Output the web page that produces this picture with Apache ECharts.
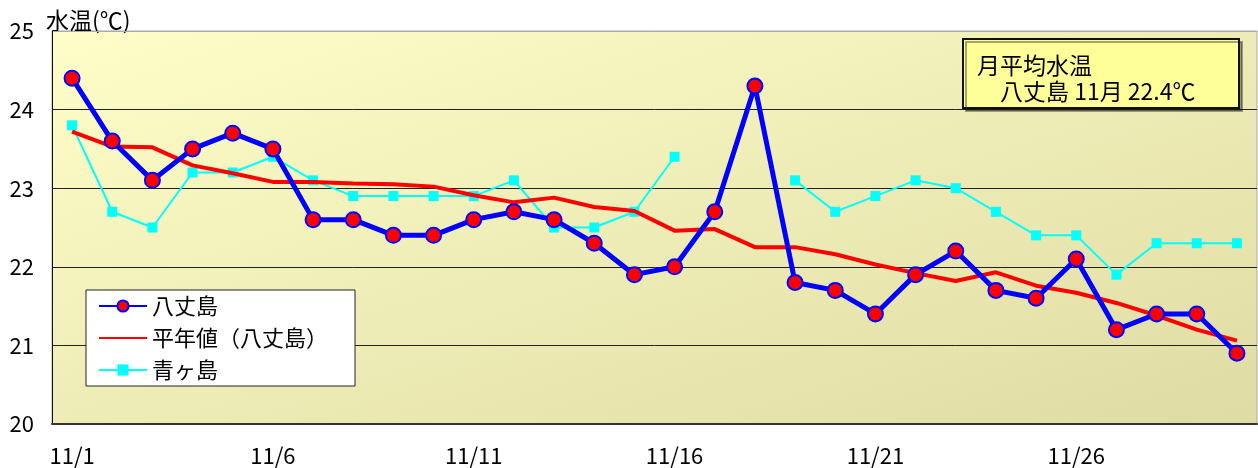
<!DOCTYPE html>
<html>
<head>
<meta charset="utf-8">
<script src="https://cdn.jsdelivr.net/npm/echarts@6/dist/echarts.min.js"></script>
<style>
html,body{margin:0;padding:0;background:#fff;}
#chart{width:1258px;height:468px;}
</style>
</head>
<body>
<div id="chart"></div>
<script>
const categories = ['11/1','11/2','11/3','11/4','11/5','11/6','11/7','11/8','11/9','11/10',
  '11/11','11/12','11/13','11/14','11/15','11/16','11/17','11/18','11/19','11/20',
  '11/21','11/22','11/23','11/24','11/25','11/26','11/27','11/28','11/29','11/30'];
const hachijo = [24.4,23.6,23.1,23.5,23.7,23.5,22.6,22.6,22.4,22.4,
  22.6,22.7,22.6,22.3,21.9,22.0,22.7,24.3,21.8,21.7,
  21.4,21.9,22.2,21.7,21.6,22.1,21.2,21.4,21.4,20.9];
const normal = [23.72,23.53,23.52,23.29,23.19,23.08,23.08,23.06,23.05,23.02,
  22.91,22.82,22.88,22.76,22.71,22.46,22.48,22.25,22.25,22.16,
  22.03,21.92,21.82,21.93,21.76,21.67,21.54,21.38,21.20,21.06];
const aogashima = [23.8,22.7,22.5,23.2,23.2,23.4,23.1,22.9,22.9,22.9,
  22.9,23.1,22.5,22.5,22.7,23.4,null,null,23.1,22.7,
  22.9,23.1,23.0,22.7,22.4,22.4,21.9,22.3,22.3,22.3];
const yTicks = [20,21,22,23,24,25];
const seriesNames = ['八丈島','平年値（八丈島）','青ヶ島'];
const yAxisTitle = '水温(℃)';
const noteLines = ['月平均水温', '八丈島 11月 22.4℃'];

const FONT = '"Noto Sans CJK JP", "Noto Sans", sans-serif';
const W = 1258, H = 468;
const G = {left: 52, right: 1, top: 31, bottom: 44};
const gw = W - G.left - G.right, gh = H - G.top - G.bottom;
const k = 2 * gw * gh / (gw * gw + gh * gh);
const bg = new echarts.graphic.LinearGradient(
  G.left, G.top, G.left + gh * k, G.top + gw * k,
  [{offset: 0, color: '#FEFEC9'}, {offset: 1, color: '#DFDBA4'}], true);

const chart = echarts.init(document.getElementById('chart'));
chart.setOption({
  animation: false,
  textStyle: {fontFamily: FONT},
  grid: {
    left: G.left, right: G.right, top: G.top, bottom: G.bottom,
    show: true,
    borderColor: '#aaa', borderWidth: 1,
    backgroundColor: bg
  },
  legend: {
    orient: 'vertical',
    left: 86, top: 290,
    data: [
      {name: seriesNames[0]},
      {name: seriesNames[1], itemStyle: {opacity: 0}},
      {name: seriesNames[2]}
    ],
    selectedMode: false,
    backgroundColor: '#fff',
    borderColor: '#222', borderWidth: 1,
    padding: [5, 27, 5, 12],
    itemWidth: 48, itemHeight: 14, itemGap: 10,
    textStyle: {fontFamily: FONT, fontSize: 22, color: '#000'}
  },
  xAxis: {
    type: 'category',
    data: categories,
    boundaryGap: true,
    axisLine: {lineStyle: {color: '#333', width: 2}},
    axisTick: {inside: true, length: 6, interval: 4, lineStyle: {color: '#222'}},
    axisLabel: {interval: 4, margin: 21, fontSize: 22, color: '#000', fontFamily: FONT},
    splitLine: {show: false}
  },
  yAxis: {
    type: 'value',
    min: 20, max: 25, interval: 1,
    axisLine: {show: true, lineStyle: {color: '#111', width: 1}},
    axisTick: {show: false},
    axisLabel: {margin: 18, fontSize: 22, color: '#000', fontFamily: FONT,
      formatter: v => yTicks.includes(v) ? String(v) : ''},
    splitLine: {show: true, lineStyle: {color: ['#222','#222','#222','#222','#222','#aaa'], width: 1}}
  },
  series: [
    {
      name: seriesNames[0], type: 'line', data: hachijo,
      symbol: 'circle', symbolSize: 15,
      lineStyle: {color: '#0000FF', width: 5},
      itemStyle: {color: '#FF0000', borderColor: '#0000FF', borderWidth: 2},
      z: 4
    },
    {
      name: seriesNames[1], type: 'line', data: normal,
      symbol: 'none',
      lineStyle: {color: '#FF0000', width: 4},
      itemStyle: {color: '#FF0000'},
      z: 3
    },
    {
      name: seriesNames[2], type: 'line', data: aogashima,
      symbol: 'rect', symbolSize: 10,
      connectNulls: false,
      lineStyle: {color: '#00FFFF', width: 2},
      itemStyle: {color: '#00FFFF'},
      z: 2
    }
  ],
  graphic: [
    {type: 'text', left: 46, top: 9,
      style: {text: yAxisTitle, font: '23px ' + FONT, fill: '#000'}},
    {type: 'rect', shape: {x: 963, y: 39, width: 276, height: 69},
      style: {fill: '#FFFF99', stroke: '#111', lineWidth: 2,
        shadowColor: 'rgba(0,0,0,0.35)', shadowOffsetX: 3, shadowOffsetY: 3, shadowBlur: 0}, z: 10},
    {type: 'text', x: 977, y: 65,
      style: {text: noteLines[0], font: '23px ' + FONT, fill: '#000', textVerticalAlign: 'middle'}, z: 11},
    {type: 'text', x: 1000, y: 91,
      style: {text: noteLines[1], font: '23px ' + FONT, fill: '#000', textVerticalAlign: 'middle'}, z: 11}
  ]
});
</script>
</body>
</html>
